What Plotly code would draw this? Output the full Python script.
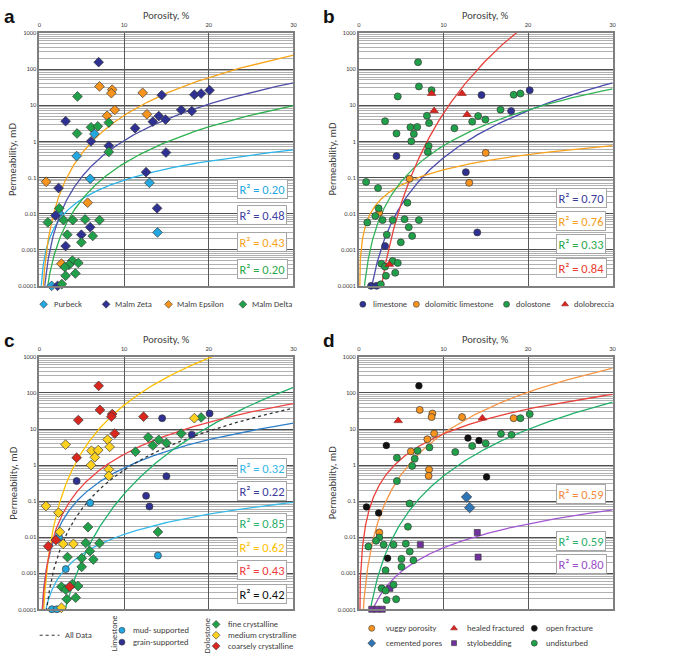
import numpy as np
import plotly.graph_objects as go

# ---------------- DATA ----------------
# Panel a  (porosity %, permeability mD)
purbeck_por = [6.5, 4.4, 6.0, 13.0, 2.3, 13.95, 1.45]
purbeck_k = [1.6, 0.39, 0.092, 0.071, 0.0104, 0.0030, 0.0001]
zeta_por = [7.0, 3.1, 14.45, 18.3, 19.1, 20.1, 16.75, 18.0, 14.1, 13.4, 14.9, 11.3, 6.1, 8.2,
            14.95, 12.6, 13.9, 2.27, 1.9, 6.0, 4.96, 3.1, 2.15]
zeta_k = [155, 3.6, 19, 19.5, 21, 26, 7.4, 6.9, 5.0, 3.5, 4.0, 2.3, 1.0, 0.75,
          0.49, 0.14, 0.014, 0.051, 0.0088, 0.0042, 0.0026, 0.00126, 0.0001]
epsilon_por = [7.1, 8.6, 8.5, 12.2, 8.9, 8.0, 12.7, 0.8, 5.7, 2.6]
epsilon_k = [33, 27, 21.5, 22, 7.4, 5.1, 5.6, 0.076, 0.020, 0.00041]
delta_por = [4.5, 4.45, 6.1, 6.9, 8.2, 8.2, 2.35, 1.0, 2.85, 3.95, 5.4, 7.1, 3.3, 6.3, 4.96,
             3.9, 3.5, 3.0, 4.6, 3.1, 4.25, 2.65]
delta_k = [17.5, 1.65, 2.45, 2.6, 3.3, 0.51, 0.014, 0.0057, 0.0066, 0.0066, 0.0069, 0.0066,
           0.0026, 0.0024, 0.0016, 0.0005, 0.00038, 0.00033, 0.00043, 0.00019, 0.00022, 0.000112]

# Panel b
lime_por = [14.5, 20.2, 18.0, 4.45, 12.65, 14.0, 3.1, 1.45, 2.1]
lime_k = [19, 26, 6.9, 0.39, 0.14, 0.0030, 0.00126, 0.0001, 0.0001]
dollime_por = [15.0, 6.0, 13.05, 2.4]
dollime_k = [0.48, 0.092, 0.071, 0.0105]
dolo_por = [7.0, 7.1, 8.6, 4.6, 18.3, 19.1, 16.75, 8.05, 14.1, 3.1, 13.4, 14.96, 6.1, 6.9, 8.3,
            11.3, 4.45, 6.5, 6.2, 8.25, 8.15, 0.86, 2.27, 5.74, 2.34, 1.95, 1.0, 2.8, 4.0, 5.4,
            7.1, 5.9, 3.3, 6.3, 4.96, 4.0, 2.66, 3.1, 4.6, 3.2, 4.3, 2.6]
dolo_k = [155, 33, 26, 17.5, 19.5, 21, 7.5, 5.1, 5.0, 3.6, 3.5, 4.0, 2.45, 2.5, 3.2,
          2.3, 1.65, 1.6, 1.0, 0.74, 0.51, 0.075, 0.051, 0.020, 0.014, 0.0086, 0.0057, 0.0066,
          0.0066, 0.007, 0.0066, 0.0042, 0.0026, 0.0024, 0.0016, 0.00049, 0.00041, 0.00034,
          0.00043, 0.00019, 0.00023, 0.00011]
breccia_por = [8.6, 12.2, 8.9, 12.8, 3.6]
breccia_k = [21, 21, 7, 5.5, 0.00039]

# Panel c
mud_por = [6.0, 2.34, 3.12, 14.0, 1.48, 2.06]
mud_k = [0.089, 0.0098, 0.0013, 0.0031, 0.0001, 0.0001]
grain_por = [14.5, 20.1, 18.0, 4.4, 15.0, 12.6, 13.0]
grain_k = [20, 27, 7.0, 0.36, 0.49, 0.14, 0.071]
fine_por = [19.1, 16.75, 12.85, 14.1, 13.4, 15.0, 11.35, 5.74, 14.0, 5.47, 7.1, 5.97, 3.32,
            5.0, 6.37, 5.0, 3.9, 4.57, 2.61, 3.12, 3.24, 4.29]
fine_k = [21, 7.5, 5.9, 5.0, 3.5, 4.1, 2.35, 0.019, 0.014, 0.0069, 0.0068, 0.0041, 0.0028,
          0.0026, 0.0024, 0.0015, 0.0005, 0.00044, 0.00042, 0.00035, 0.00019, 0.00021]
medium_por = [18.3, 3.1, 8.05, 6.15, 6.95, 8.3, 6.55, 6.1, 8.2, 8.2, 0.78, 2.26, 2.42, 2.81,
              4.02, 2.61]
medium_k = [20, 3.7, 5.1, 2.5, 2.6, 3.2, 1.65, 1.0, 0.76, 0.5, 0.073, 0.048, 0.014, 0.0065,
            0.0065, 0.00011]
coarse_por = [7.0, 7.15, 8.6, 8.5, 12.3, 4.6, 8.9, 4.4, 1.95, 1.05, 3.59]
coarse_k = [158, 34, 26, 22, 22, 17.7, 7.5, 1.6, 0.0083, 0.0056, 0.00042]

# Panel d
vuggy_por = [7.2, 8.7, 8.6, 12.2, 18.3, 8.9, 8.1, 6.15, 8.3, 8.25, 2.42]
vuggy_k = [34, 27, 21.5, 21.5, 20, 7.5, 5.2, 2.4, 0.75, 0.5, 0.0135]
healed_por = [4.65, 14.6]
healed_k = [17, 20]
openfr_por = [7.1, 3.25, 12.9, 14.2, 15.1, 0.9, 2.34, 3.4]
openfr_k = [158, 3.5, 5.6, 4.8, 0.47, 0.069, 0.047, 0.0026]
cement_por = [12.73, 13.1]
cement_k = [0.13, 0.066]
stylo_por = [7.27, 14.0, 14.1, 3.67, 1.52, 2.11, 2.77]
stylo_k = [0.0062, 0.0135, 0.0028, 0.00038, 0.0001, 0.0001, 0.0001]
undist_por = [20.2, 19.1, 16.8, 18.05, 13.4, 15.0, 11.4, 6.95, 8.35, 4.5, 6.6, 6.3, 4.5, 6.0,
              5.8, 2.42, 2.03, 1.13, 2.93, 4.1, 5.55, 6.02, 5.04, 6.45, 5.04, 3.16, 4.1, 2.7,
              3.16, 3.28, 4.41]
undist_k = [26, 20, 7.4, 6.9, 3.4, 4.0, 2.3, 2.5, 3.1, 1.6, 1.5, 0.95, 0.36, 0.086,
            0.0196, 0.0098, 0.0079, 0.0055, 0.0062, 0.0062, 0.0066, 0.004, 0.0025, 0.0023,
            0.0015, 0.0012, 0.00048, 0.00038, 0.00033, 0.00018, 0.00019]

# Power-law trendline coefficients  k = A * por^B
trend_a_A = [0.0015, 4.7e-4, 1.64e-3, 1.1e-4]          # Purbeck, Zeta, Epsilon, Delta
trend_a_B = [1.75, 3.35, 3.5, 3.35]
trend_b_A = [1.56e-5, 6.5e-3, 3.8e-4, 2.96e-8]         # limestone, dol. limestone, dolostone, dolobreccia
trend_b_B = [4.35, 1.4, 3.3, 8.3]
trend_c_A = [1.65e-4, 2.1e-3, 1e-7, 2.05e-3, 2.24e-3, 1.83e-4]  # mud, grain, fine, medium, coarse, all
trend_c_B = [1.86, 2.6, 6.2, 4.35, 2.95, 3.6]
trend_d_A = [1.2e-3, 0.0367, 2.5e-5, 3.2e-5]           # vuggy, healed, undisturbed, stylobedding
trend_d_B = [3.8, 2.3, 4.3, 2.2]

r2_a = ["0.20", "0.48", "0.43", "0.20"]
r2_b = ["0.70", "0.76", "0.33", "0.84"]
r2_c = ["0.32", "0.22", "0.85", "0.62", "0.43", "0.42"]
r2_d = ["0.59", "0.59", "0.80"]

decade_vals = [0.0001, 0.001, 0.01, 0.1, 1, 10, 100, 1000]
decade_text = ["0.0001", "0.001", "0.01", "0.1", "1", "10", "100", "1000"]
x_ticks = [0, 10, 20, 30]

# ---------------- STYLE / LAYOUT ----------------
W, H = 685, 658
FONT = "Carlito, Lato, 'Open Sans', sans-serif"
TXT = "#404040"


def px(x):
    return x / W


def py(y):
    return 1 - y / H


boxes = {
    1: (37.7, 294.0, 29.3, 285.3),
    2: (360.0, 616.0, 29.3, 285.3),
    3: (37.7, 294.0, 357.3, 612.7),
    4: (360.0, 616.0, 357.3, 612.7),
}

fig = go.Figure()

NAVY = "#2E3192"
LBLUE = "#22A7E0"
ORANGE = "#F7941D"
GREEN = "#1FA049"
RED = "#D9261E"
YELLOW = "#FFD21F"
PURPLE = "#7030A0"
OUT = "#3a3a3a"

xs = np.concatenate([np.geomspace(0.004, 1.0, 300), np.linspace(1.0, 30, 900)])


def curve(n, A, B, color, dash="solid", width=1.3):
    ys = A * xs ** B
    fig.add_trace(go.Scatter(x=xs, y=ys, mode="lines", xaxis=f"x{n}", yaxis=f"y{n}",
                             line=dict(color=color, width=width, dash=dash),
                             showlegend=False, hoverinfo="skip"))


def pts(n, xv, yv, color, symbol, size, lc=OUT, lw=0.7):
    fig.add_trace(go.Scatter(x=xv, y=yv, mode="markers", xaxis=f"x{n}", yaxis=f"y{n}",
                             marker=dict(color=color, symbol=symbol, size=size,
                                         line=dict(color=lc, width=lw)),
                             cliponaxis=False, showlegend=False))


# panel a
for A, B, c in zip(trend_a_A, trend_a_B, ["#2BB5E8", "#5050A8", "#F8A51C", "#2DB04E"]):
    curve(1, A, B, c)
pts(1, purbeck_por, purbeck_k, LBLUE, "diamond", 7.5)
pts(1, zeta_por, zeta_k, NAVY, "diamond", 7.5)
pts(1, epsilon_por, epsilon_k, ORANGE, "diamond", 7.5)
pts(1, delta_por, delta_k, GREEN, "diamond", 7.5)

# panel b
for A, B, c in zip(trend_b_A, trend_b_B, ["#4A4AAE", "#F7A21B", "#33B357", "#E8403A"]):
    curve(2, A, B, c)
pts(2, lime_por, lime_k, NAVY, "circle", 7)
pts(2, dollime_por, dollime_k, ORANGE, "circle", 7)
pts(2, dolo_por, dolo_k, GREEN, "circle", 7)
pts(2, breccia_por, breccia_k, RED, "triangle-up", 7.5, lc="#8b1a1a", lw=0.6)

# panel c
for A, B, c, d in zip(trend_c_A, trend_c_B,
                      ["#3ABAE8", "#2F7FC8", "#21B06A", "#FFC000", "#EE4444", "#333333"],
                      ["solid"] * 5 + ["3px,3px"]):
    curve(3, A, B, c, dash=d)
pts(3, mud_por, mud_k, LBLUE, "circle", 7)
pts(3, grain_por, grain_k, NAVY, "circle", 7)
pts(3, fine_por, fine_k, GREEN, "diamond", 7.5)
pts(3, medium_por, medium_k, YELLOW, "diamond", 7.5)
pts(3, coarse_por, coarse_k, RED, "diamond", 7.5)

# panel d
for A, B, c in zip(trend_d_A, trend_d_B, ["#F79646", "#E8403A", "#21B06A", "#A157D0"]):
    curve(4, A, B, c)
pts(4, vuggy_por, vuggy_k, ORANGE, "circle", 7)
pts(4, healed_por, healed_k, RED, "triangle-up", 7.5, lc="#8b1a1a", lw=0.6)
pts(4, openfr_por, openfr_k, "#111111", "circle", 6.5, lc="#111111")
pts(4, cement_por, cement_k, "#2E75B6", "diamond", 8)
pts(4, stylo_por, stylo_k, PURPLE, "square", 6)
pts(4, undist_por, undist_k, GREEN, "circle", 7)

# ---------------- legends (drawn on an invisible pixel overlay) ----------------
leg_entries = [
    # label, symbol, colour, marker x, marker y, text x
    ("Purbeck", "diamond", LBLUE, 42, 304, 50),
    ("Malm Zeta", "diamond", NAVY, 105, 304, 112),
    ("Malm Epsilon", "diamond", ORANGE, 168, 304, 175),
    ("Malm Delta", "diamond", GREEN, 243, 304, 250),
    ("limestone", "circle", NAVY, 364, 304, 372),
    ("dolomitic limestone", "circle", ORANGE, 418, 304, 425),
    ("dolostone", "circle", GREEN, 509, 304, 517),
    ("dolobreccia", "triangle-up", RED, 568, 304, 575),
    ("mud- supported", "circle", LBLUE, 121, 634, 130),
    ("grain-supported", "circle", NAVY, 121, 646, 130),
    ("fine crystalline", "diamond", GREEN, 216, 628, 226),
    ("medium crystralline", "diamond", YELLOW, 216, 639, 226),
    ("coarsely crystalline", "diamond", RED, 216, 650, 226),
    ("vuggy porosity", "circle", ORANGE, 373, 632, 385),
    ("healed fractured", "triangle-up", RED, 456, 632, 467),
    ("open fracture", "circle", "#111111", 537, 632, 547),
    ("cemented pores", "diamond", "#2E75B6", 373, 647, 385),
    ("stylobedding", "square", PURPLE, 456, 647, 467),
    ("undisturbed", "circle", GREEN, 537, 647, 547),
]
for lab, sym, col, mx, my, tx in leg_entries:
    size = 6 if sym != "square" else 5
    lc = "#8b1a1a" if sym == "triangle-up" else OUT
    fig.add_trace(go.Scatter(x=[mx], y=[my], mode="markers", xaxis="x5", yaxis="y5",
                             marker=dict(symbol=sym, color=col, size=size,
                                         line=dict(color=lc, width=0.6)),
                             cliponaxis=False, showlegend=False, hoverinfo="skip"))
fig.add_trace(go.Scatter(x=[38, 58], y=[639, 639], mode="lines", xaxis="x5", yaxis="y5",
                         line=dict(color="#333333", width=1.2, dash="3px,3px"),
                         showlegend=False, hoverinfo="skip"))

annotations = []
for lab, sym, col, mx, my, tx in leg_entries:
    annotations.append(dict(x=px(tx), y=py(my), xref="paper", yref="paper", text=lab,
                            showarrow=False, xanchor="left", yanchor="middle",
                            font=dict(size=8.5, color=TXT, family=FONT)))
annotations.append(dict(x=px(62), y=py(639), xref="paper", yref="paper", text="All Data",
                        showarrow=False, xanchor="left", yanchor="middle",
                        font=dict(size=8.5, color=TXT, family=FONT)))
for lab, x, y in [("Limestone", 112.5, 637.5), ("Dolostone", 207, 640)]:
    annotations.append(dict(x=px(x), y=py(y), xref="paper", yref="paper", text=lab,
                            showarrow=False, textangle=-90, xanchor="center", yanchor="middle",
                            font=dict(size=8.5, color=TXT, family=FONT)))

# panel letters, axis titles
for n, letter in zip([1, 2, 3, 4], "abcd"):
    x0, x1, y0, y1 = boxes[n]
    annotations.append(dict(x=px(x0 - 30), y=py(y0 - 17), xref="paper", yref="paper",
                            text=f"<b>{letter}</b>", showarrow=False, xanchor="center",
                            yanchor="middle",
                            font=dict(size=19, color="#111111", family="Liberation Sans, Arial")))
    annotations.append(dict(x=px((x0 + x1) / 2), y=py(y0 - 17.5), xref="paper", yref="paper",
                            text="Porosity, %", showarrow=False, xanchor="center",
                            yanchor="middle", font=dict(size=10.5, color=TXT, family=FONT)))
    annotations.append(dict(x=px(x0 - 27), y=py((y0 + y1) / 2), xref="paper", yref="paper",
                            text="Permeability, mD", showarrow=False, textangle=-90,
                            xanchor="center", yanchor="middle",
                            font=dict(size=10.5, color=TXT, family=FONT)))

# R² boxes
r2_specs = [
    (r2_a, ["#1FA8E0", "#4040A0", "#F7A21B", "#2BA84A"], 262.5, [187.7, 214, 240.7, 268.3]),
    (r2_b, ["#3C3C9C", "#F5A020", "#2BA84A", "#E83A2E"], 584.5, [196, 219.3, 243.3, 267.3]),
    (r2_c, ["#33B5E5", "#3C3C9C", "#2BAF6A", "#FFC000", "#EE3B3B", "#111111"], 262.5,
     [469.3, 492.7, 525.7, 549.3, 573.3, 597.3]),
    (r2_d, ["#F58A3C", "#2BAF6A", "#9B4FC8"], 584.5, [496, 543.3, 567.3]),
]
for vals, cols, cx, cys in r2_specs:
    for v, c, cy in zip(vals, cols, cys):
        annotations.append(dict(x=px(cx), y=py(cy), xref="paper", yref="paper",
                                text=f"R² = {v}", showarrow=False, xanchor="center",
                                yanchor="middle", bgcolor="white", bordercolor="#a6a6a6",
                                borderwidth=1, borderpad=1.5,
                                font=dict(size=12.5, color=c, family=FONT)))

minor_vals = [m * 10.0 ** e for e in range(-4, 3) for m in range(2, 10)]

layout = dict(width=W, height=H, margin=dict(l=0, r=0, t=0, b=0),
              paper_bgcolor="white", plot_bgcolor="rgba(0,0,0,0)",
              showlegend=False, annotations=annotations)
for n, (x0, x1, y0, y1) in boxes.items():
    layout[f"xaxis{n}"] = dict(domain=[px(x0), px(x1)], range=[0, 30], side="top",
                               anchor=f"y{n}", tickmode="array", tickvals=x_ticks,
                               showgrid=True, gridcolor="#595959", gridwidth=1,
                               showline=True, mirror=True, linecolor="#7f7f7f", linewidth=1.5,
                               ticks="", zeroline=False, ticklabelstandoff=2,
                               tickfont=dict(size=6.5, color=TXT, family=FONT))
    layout[f"yaxis{n}"] = dict(domain=[py(y1), py(y0)], type="log", range=[-4, 3],
                               anchor=f"x{n}", tickmode="array", tickvals=decade_vals,
                               ticktext=decade_text, showgrid=True, gridcolor="#505050",
                               gridwidth=1.3, showline=True, mirror=True, linecolor="#7f7f7f",
                               linewidth=1.5, ticks="", zeroline=False,
                               minor=dict(tickmode="array", tickvals=minor_vals, showgrid=True,
                                          gridcolor="#b0b0b0", gridwidth=0.8, ticks=""),
                               tickfont=dict(size=6.5, color=TXT, family=FONT))
layout["xaxis5"] = dict(domain=[0, 1], range=[0, W], visible=False, anchor="y5", fixedrange=True)
layout["yaxis5"] = dict(domain=[0, 1], range=[H, 0], visible=False, anchor="x5", fixedrange=True)

fig.update_layout(**layout)
fig.write_html("out.html", config={"displayModeBar": False},
               post_script="document.body.style.margin='0';document.body.style.overflow='hidden';")
